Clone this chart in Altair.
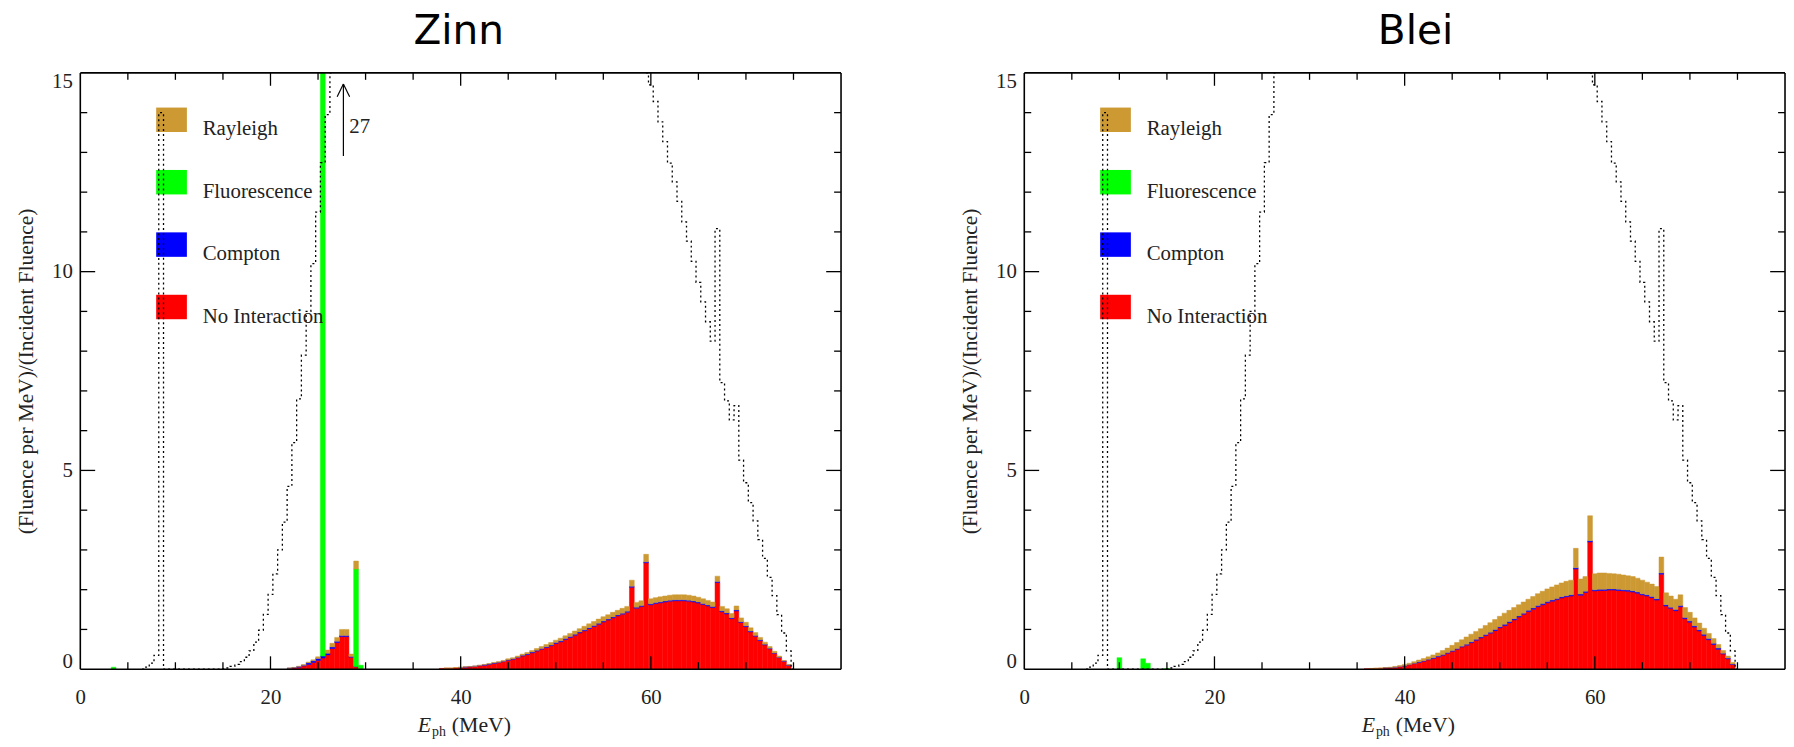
import altair as alt
import pandas as pd

# ------------------------------------------------------------------ data
layers = ["No Interaction", "Compton", "Fluorescence", "Rayleigh"]
layer_colors = ["#ff0000", "#0000ff", "#00ff00", "#cc9933"]
panel_titles = ["Zinn", "Blei"]
y_axis_title = "(Fluence per MeV)/(Incident Fluence)"
x_title_main, x_title_sub, x_title_unit = "E", "ph", "(MeV)"
zinn_peak_label = ["27"]

x_label_values = [0, 20, 40, 60]
y_label_values = [0, 5, 10, 15]
x_major_ticks = [20, 40, 60]
x_minor_ticks = [5, 10, 15, 25, 30, 35, 45, 50, 55, 65, 70, 75]
y_major_ticks = [5, 10]
y_minor_ticks = [1, 2, 3, 4, 6, 7, 8, 9, 11, 12, 13, 14]

# ---- Zinn (tin): single low bin, the 22-29.5 MeV group, the main hump
zinn_e_a = [3.5]
zinn_red_a = [0.0]
zinn_blue_a = [0.0]
zinn_green_a = [0.05]
zinn_tan_a = [0.0]

zinn_e_b = [22.0, 22.5, 23.0, 23.5, 24.0, 24.5, 25.0, 25.5, 26.0, 26.5, 27.0, 27.5, 28.0, 28.5, 29.0, 29.5]
zinn_red_b = [0.02, 0.03, 0.05, 0.08, 0.12, 0.17, 0.22, 0.28, 0.36, 0.52, 0.67, 0.82, 0.82, 0.30, 0.06, 0.01]
zinn_blue_b = [0.005, 0.01, 0.015, 0.02, 0.04, 0.04, 0.05, 0.05, 0.04, 0.04, 0.03, 0.03, 0.03, 0.02, 0.01, 0.0]
zinn_green_b = [0, 0, 0, 0, 0, 0, 0, 26.57, 0, 0, 0, 0, 0, 0, 2.45, 0.09]
zinn_tan_b = [0.005, 0.005, 0.01, 0.015, 0.02, 0.025, 0.04, 0.10, 0.08, 0.09, 0.10, 0.15, 0.15, 0.06, 0.20, 0.0]

zinn_e_c0 = 38.0
zinn_red_c = [0.02, 0.025, 0.025, 0.035, 0.04, 0.05, 0.06, 0.07, 0.085, 0.10,
              0.12, 0.145, 0.165, 0.19, 0.225, 0.25, 0.285, 0.33, 0.365, 0.41,
              0.455, 0.50, 0.545, 0.59, 0.645, 0.69, 0.745, 0.80, 0.855, 0.91,
              0.965, 1.02, 1.075, 1.13, 1.185, 1.235, 1.29, 1.34, 1.385, 1.435,
              2.06, 1.535, 1.575, 2.675, 1.62, 1.65, 1.67, 1.69, 1.71, 1.72,
              1.72, 1.72, 1.71, 1.69, 1.665, 1.625, 1.59, 1.55, 2.18, 1.445,
              1.39, 1.27, 1.465, 1.175, 1.07, 0.94, 0.83, 0.72, 0.61, 0.51,
              0.40, 0.29, 0.20, 0.10]
zinn_blue_c = [0.0, 0.0, 0.0, 0.0, 0.005, 0.005, 0.005, 0.005, 0.01, 0.01,
               0.01, 0.01, 0.01, 0.01, 0.015, 0.015, 0.015, 0.02, 0.02, 0.02,
               0.02, 0.02, 0.02, 0.02, 0.025, 0.025, 0.025, 0.025, 0.025, 0.025,
               0.025, 0.025, 0.025, 0.025, 0.025, 0.025, 0.025, 0.025, 0.025, 0.025,
               0.025, 0.025, 0.025, 0.025, 0.025, 0.025, 0.025, 0.025, 0.025, 0.025,
               0.025, 0.025, 0.025, 0.025, 0.025, 0.025, 0.025, 0.025, 0.025, 0.025,
               0.025, 0.025, 0.025, 0.02, 0.02, 0.02, 0.02, 0.02, 0.015, 0.015,
               0.01, 0.01, 0.005, 0.005]
zinn_tan_c = [0.0, 0.005, 0.005, 0.005, 0.005, 0.005, 0.005, 0.005, 0.005, 0.01,
              0.01, 0.015, 0.015, 0.02, 0.02, 0.025, 0.03, 0.03, 0.035, 0.04,
              0.045, 0.05, 0.055, 0.06, 0.06, 0.065, 0.07, 0.075, 0.08, 0.085,
              0.09, 0.095, 0.10, 0.105, 0.11, 0.11, 0.115, 0.115, 0.12, 0.12,
              0.155, 0.12, 0.12, 0.19, 0.125, 0.125, 0.125, 0.125, 0.125, 0.125,
              0.125, 0.125, 0.125, 0.125, 0.12, 0.12, 0.115, 0.115, 0.135, 0.11,
              0.105, 0.105, 0.10, 0.095, 0.09, 0.08, 0.07, 0.06, 0.055, 0.045,
              0.04, 0.03, 0.015, 0.01]

# ---- Blei (lead): fluorescence bins and the main hump
blei_e_a = [10.0, 12.5, 13.0, 15.0]
blei_green_a = [0.29, 0.26, 0.15, 0.02]

blei_e_c0 = 36.0
blei_red_c = [0.01, 0.015, 0.02, 0.025, 0.03, 0.035, 0.045, 0.06, 0.08, 0.11,
              0.14, 0.17, 0.20, 0.235, 0.27, 0.31, 0.35, 0.40, 0.45, 0.50,
              0.555, 0.605, 0.665, 0.725, 0.785, 0.845, 0.905, 0.97, 1.04, 1.10,
              1.17, 1.24, 1.31, 1.38, 1.45, 1.51, 1.57, 1.62, 1.67, 1.71,
              1.75, 1.79, 1.82, 1.84, 2.52, 1.86, 1.93, 3.20, 1.97, 1.98,
              1.98, 1.99, 1.99, 1.98, 1.97, 1.96, 1.94, 1.91, 1.87, 1.84,
              1.80, 1.74, 2.39, 1.59, 1.53, 1.47, 1.57, 1.27, 1.18, 1.06,
              0.96, 0.85, 0.74, 0.62, 0.50, 0.38, 0.26, 0.12]
blei_blue_c = [0.0, 0.0, 0.0, 0.0, 0.005, 0.005, 0.005, 0.01, 0.01, 0.01,
               0.01, 0.015, 0.015, 0.015, 0.02, 0.02, 0.02, 0.02, 0.02, 0.02,
               0.025, 0.025, 0.025, 0.025, 0.025, 0.025, 0.025, 0.03, 0.03, 0.03,
               0.03, 0.03, 0.03, 0.03, 0.03, 0.03, 0.03, 0.03, 0.03, 0.03,
               0.03, 0.03, 0.03, 0.03, 0.03, 0.03, 0.03, 0.03, 0.03, 0.03,
               0.03, 0.03, 0.03, 0.03, 0.03, 0.03, 0.03, 0.03, 0.03, 0.03,
               0.03, 0.03, 0.03, 0.03, 0.03, 0.03, 0.03, 0.03, 0.03, 0.03,
               0.03, 0.03, 0.03, 0.03, 0.03, 0.02, 0.02, 0.01]
blei_tan_c = [0.0, 0.005, 0.005, 0.005, 0.005, 0.01, 0.02, 0.02, 0.03, 0.03,
              0.04, 0.045, 0.055, 0.06, 0.07, 0.08, 0.10, 0.11, 0.13, 0.15,
              0.16, 0.18, 0.19, 0.20, 0.21, 0.23, 0.24, 0.25, 0.26, 0.28,
              0.28, 0.28, 0.28, 0.28, 0.28, 0.29, 0.30, 0.31, 0.32, 0.33,
              0.34, 0.35, 0.36, 0.37, 0.49, 0.38, 0.37, 0.63, 0.40, 0.41,
              0.41, 0.39, 0.38, 0.38, 0.37, 0.36, 0.36, 0.35, 0.34, 0.32,
              0.31, 0.31, 0.40, 0.30, 0.28, 0.26, 0.27, 0.25, 0.22, 0.20,
              0.17, 0.15, 0.13, 0.12, 0.09, 0.07, 0.05, 0.04]

# ---- incident spectrum (dotted step line), same in both panels; 15 = leaves the frame
dot_e_left0 = 6.5
dot_v_left = [0.0, 0.05, 0.15, 0.35, 14.0,
              0, 0, 0, 0, 0, 0, 0, 0, 0, 0, 0, 0,
              0.01, 0.03, 0.07, 0.12, 0.19, 0.30, 0.46, 0.68, 0.98, 1.38,
              1.88, 2.4, 3.0, 3.7, 4.6, 5.7, 6.8, 7.9, 9.0, 10.2,
              11.5, 12.74, 13.95, 15.0]
dot_e_right0 = 59.5
dot_v_right = [15.0, 14.7, 14.28, 13.77, 13.27, 12.73, 12.26, 11.77, 11.25, 10.77,
               10.26, 9.73, 9.24, 8.74, 8.25, 11.08, 7.21, 6.75, 6.27, 6.63,
               5.26, 4.69, 4.19, 3.73, 3.26, 2.79, 2.31, 1.85, 1.37, 0.91,
               0.46, 0.0]

# ------------------------------------------------------------------ tables
def centers(start, n):
    return [start + 0.5 * i for i in range(n)]


def long_table(groups):
    rows = []
    for e, series in groups:
        for rank, vals in enumerate(series):
            for ee, v in zip(e, vals):
                if v > 0:
                    rows.append({"e": ee, "layer": layers[rank], "rank": rank, "value": v})
    return pd.DataFrame(rows)


zinn_df = long_table([
    (zinn_e_a, [zinn_red_a, zinn_blue_a, zinn_green_a, zinn_tan_a]),
    (zinn_e_b, [zinn_red_b, zinn_blue_b, zinn_green_b, zinn_tan_b]),
    (centers(zinn_e_c0, len(zinn_red_c)),
     [zinn_red_c, zinn_blue_c, [0] * len(zinn_red_c), zinn_tan_c]),
])
blei_df = long_table([
    (blei_e_a, [[0] * 4, [0] * 4, blei_green_a, [0] * 4]),
    (centers(blei_e_c0, len(blei_red_c)),
     [blei_red_c, blei_blue_c, [0] * len(blei_red_c), blei_tan_c]),
])
dot_df = pd.concat([
    pd.DataFrame({"e": centers(dot_e_left0, len(dot_v_left)), "v": dot_v_left, "seg": "a"}),
    pd.DataFrame({"e": centers(dot_e_right0, len(dot_v_right)), "v": dot_v_right, "seg": "b"}),
])

# ------------------------------------------------------------------ chart
W, H = 768, 602
SERIF = "Liberation Serif"
TXT = "#222222"
XS = alt.Scale(domain=[0, 80], nice=False, zero=False)
YS = alt.Scale(domain=[0, 15], nice=False, zero=False)
one = pd.DataFrame({"k": [0]})

X_AXIS = alt.Axis(values=x_label_values, ticks=False, tickSize=0, domain=False, grid=False,
                  labelFont=SERIF, labelFontSize=21, labelColor=TXT, labelPadding=18,
                  labelFlush=False, format="d")
Y_AXIS = alt.Axis(values=y_label_values, ticks=False, tickSize=0, domain=False, grid=False,
                  labelFont=SERIF, labelFontSize=21, labelColor=TXT, labelPadding=8,
                  labelFlush=True, labelFlushOffset=2, format="d", title=y_axis_title,
                  titleFont=SERIF, titleFontSize=21.5, titleFontWeight="normal",
                  titleColor=TXT, titlePadding=14)


def X(field):
    return alt.X(field, scale=XS, axis=X_AXIS, title=None)


def Y(field):
    return alt.Y(field, scale=YS, axis=Y_AXIS)


def panel(df, title, title_dx, with_arrow):
    cscale = alt.Scale(domain=layers, range=layer_colors)
    bars = alt.Chart(df).transform_calculate(
        lo="datum.e - 0.25", hi="datum.e + 0.25"
    ).transform_stack(
        stack="value", groupby=["lo"], as_=["v0", "v1"],
        sort=[alt.SortField("rank", order="ascending")], offset="zero",
    ).mark_bar(clip=True, strokeWidth=0.5).encode(
        x=X("lo:Q"), x2="hi:Q",
        y=Y("v0:Q"), y2="v1:Q",
        color=alt.Color("layer:N", scale=cscale, legend=None),
        stroke=alt.Stroke("layer:N", scale=cscale, legend=None),
    )
    parts = [bars]

    # legend boxes and labels
    for i, name in enumerate(reversed(layers)):
        col = layer_colors[layers.index(name)]
        d = pd.DataFrame({"name": [name]})
        y0 = 35 + 63 * i
        parts.append(alt.Chart(d).mark_rect(color=col).encode(
            x=alt.value(76.6), x2=alt.value(107.6), y=alt.value(y0), y2=alt.value(y0 + 24.7)))
        parts.append(alt.Chart(d).mark_text(font=SERIF, fontSize=21, align="left",
                                            baseline="alphabetic", color=TXT).encode(
            x=alt.value(123.6), y=alt.value(y0 + 28), text="name:N"))

    # incident spectrum
    parts.append(alt.Chart(dot_df).mark_line(interpolate="step", clip=True, color="black",
                                             strokeWidth=1.3, strokeDash=[2, 3]).encode(
        x=X("e:Q"), y=Y("v:Q"), detail="seg:N"))

    # inward ticks on all four sides
    for vals, L in [(x_major_ticks, 13), (x_minor_ticks, 7)]:
        d = pd.DataFrame({"t": vals})
        parts.append(alt.Chart(d).mark_rule(color="black", strokeWidth=1.3).encode(
            x=X("t:Q"), y=alt.value(H), y2=alt.value(H - L)))
        parts.append(alt.Chart(d).mark_rule(color="black", strokeWidth=1.3).encode(
            x=X("t:Q"), y=alt.value(0), y2=alt.value(L)))
    for vals, L in [(y_major_ticks, 15), (y_minor_ticks, 7)]:
        d = pd.DataFrame({"t": vals})
        parts.append(alt.Chart(d).mark_rule(color="black", strokeWidth=1.3).encode(
            y=Y("t:Q"), x=alt.value(0), x2=alt.value(L)))
        parts.append(alt.Chart(d).mark_rule(color="black", strokeWidth=1.3).encode(
            y=Y("t:Q"), x=alt.value(W), x2=alt.value(W - L)))

    # frame on top
    for (xa, xb, ya, yb) in [(0, W, H, H), (0, W, 0, 0), (0, 0, 0, H), (W, W, 0, H)]:
        parts.append(alt.Chart(one).mark_rule(color="black", strokeWidth=1.6).encode(
            x=alt.value(xa), x2=alt.value(xb), y=alt.value(ya), y2=alt.value(yb)))

    # x-axis title with subscript
    xt = pd.DataFrame({"a": [x_title_main], "b": [x_title_sub], "c": [x_title_unit]})
    parts.append(alt.Chart(xt).mark_text(font=SERIF, fontSize=22, fontStyle="italic", align="left",
                                         baseline="alphabetic", color=TXT).encode(
        x=alt.value(340.6), y=alt.value(H + 63), text="a:N"))
    parts.append(alt.Chart(xt).mark_text(font=SERIF, fontSize=14, align="left",
                                         baseline="alphabetic", color=TXT).encode(
        x=alt.value(355), y=alt.value(H + 67), text="b:N"))
    parts.append(alt.Chart(xt).mark_text(font=SERIF, fontSize=22, align="left",
                                         baseline="alphabetic", color=TXT).encode(
        x=alt.value(375), y=alt.value(H + 63), text="c:N"))

    if with_arrow:
        ad = pd.DataFrame({"lab": zinn_peak_label})
        for (xa, ya, xb, yb) in [(265.6, 84, 265.6, 11.3), (259.3, 24, 265.6, 11.3),
                                 (271.9, 24, 265.6, 11.3)]:
            parts.append(alt.Chart(ad).mark_rule(color="black", strokeWidth=1.2).encode(
                x=alt.value(xa), x2=alt.value(xb), y=alt.value(ya), y2=alt.value(yb)))
        parts.append(alt.Chart(ad).mark_text(font=SERIF, fontSize=21, align="left",
                                             baseline="alphabetic", color=TXT).encode(
            x=alt.value(271.6), y=alt.value(60.7), text="lab:N"))

    return alt.layer(*parts).properties(
        width=W, height=H,
        title=alt.TitleParams(text=title, font="DejaVu Sans", fontSize=41, fontWeight="normal",
                              color="black", anchor="middle", frame="group",
                              baseline="alphabetic", offset=-14, dx=title_dx),
    )


chart = alt.hconcat(
    panel(zinn_df, panel_titles[0], -2, True),
    panel(blei_df, panel_titles[1], 11, False),
    spacing=119,
).properties(
    padding={"left": 8, "top": 0, "right": 0, "bottom": 0},
    background="white",
).configure_view(stroke=None)

chart.save("out.html", embed_options={"renderer": "svg", "actions": False})
